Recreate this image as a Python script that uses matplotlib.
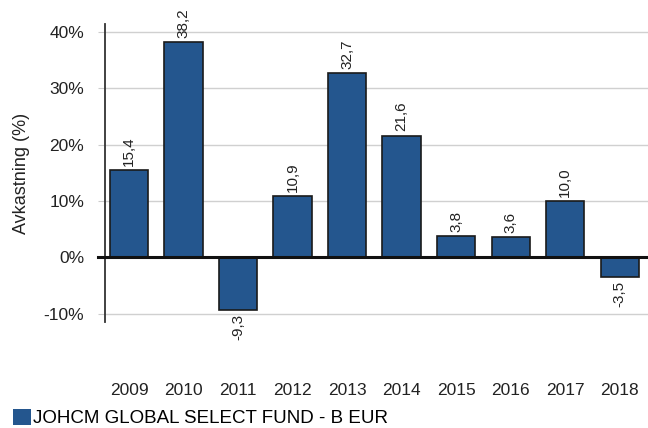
import matplotlib
matplotlib.use('Agg')
import matplotlib.pyplot as plt
from matplotlib.patches import Patch

# Data
years = ['2009', '2010', '2011', '2012', '2013', '2014', '2015', '2016', '2017', '2018']
returns = [15.4, 38.2, -9.3, 10.9, 32.7, 21.6, 3.8, 3.6, 10.0, -3.5]
y_ticks = [-10, 0, 10, 20, 30, 40]
fund_name = 'JOHCM GLOBAL SELECT FUND - B EUR'

plt.rcParams['font.family'] = ['Liberation Sans', 'DejaVu Sans']
bar_color = '#24568E'

fig = plt.figure(figsize=(6.48, 4.28), dpi=100)
ax = fig.add_axes([105 / 648, 1 - 322 / 428, 1 - 105 / 648, (322 - 24) / 428])

x = list(range(len(years)))
ax.bar(x, returns, width=0.70, color=bar_color, edgecolor='#1a1a1a', linewidth=1.2, zorder=3)

# verdiene på søylene
for xi, v in zip(x, returns):
    label = f'{v:.1f}'.replace('.', ',')
    if v >= 0:
        ax.annotate(label, (xi, v), xytext=(0, 3), textcoords='offset points',
                    rotation=90, ha='center', va='bottom', fontsize=11, color='#222222')
    else:
        ax.annotate(label, (xi, v), xytext=(0, -3), textcoords='offset points',
                    rotation=90, ha='center', va='top', fontsize=11, color='#222222')

ax.set_xlim(-0.44, 9.52)
ax.set_ylim(-11.5, 41.4)
ax.set_yticks(y_ticks)
ax.set_yticklabels([f'{t}%' for t in y_ticks], fontsize=12.5, color='#222222')
ax.set_xticks(x)
ax.set_xticklabels(years, fontsize=12.5, color='#222222')
ax.tick_params(axis='x', length=0, pad=44)
ax.tick_params(axis='y', length=5, color='#cccccc', pad=10)

ax.grid(axis='y', color='#d0d0d0', linewidth=1.0, zorder=0)
ax.axhline(0, color='#111111', linewidth=2.2, zorder=4, xmin=-0.013, clip_on=False)

for side in ['top', 'right', 'bottom']:
    ax.spines[side].set_visible(False)
ax.spines['left'].set_color('#333333')
ax.spines['left'].set_linewidth(1.3)

ax.set_ylabel('Avkastning (%)', fontsize=13, color='#222222', labelpad=10)

fig.legend(handles=[Patch(facecolor=bar_color, edgecolor='none')], labels=[fund_name],
           loc='lower left', bbox_to_anchor=(0.0, -0.029), frameon=False, fontsize=13.5,
           handlelength=0.97, handleheight=0.95, handletextpad=0.08, borderpad=0.2)

fig.savefig('out.png', dpi=100)
